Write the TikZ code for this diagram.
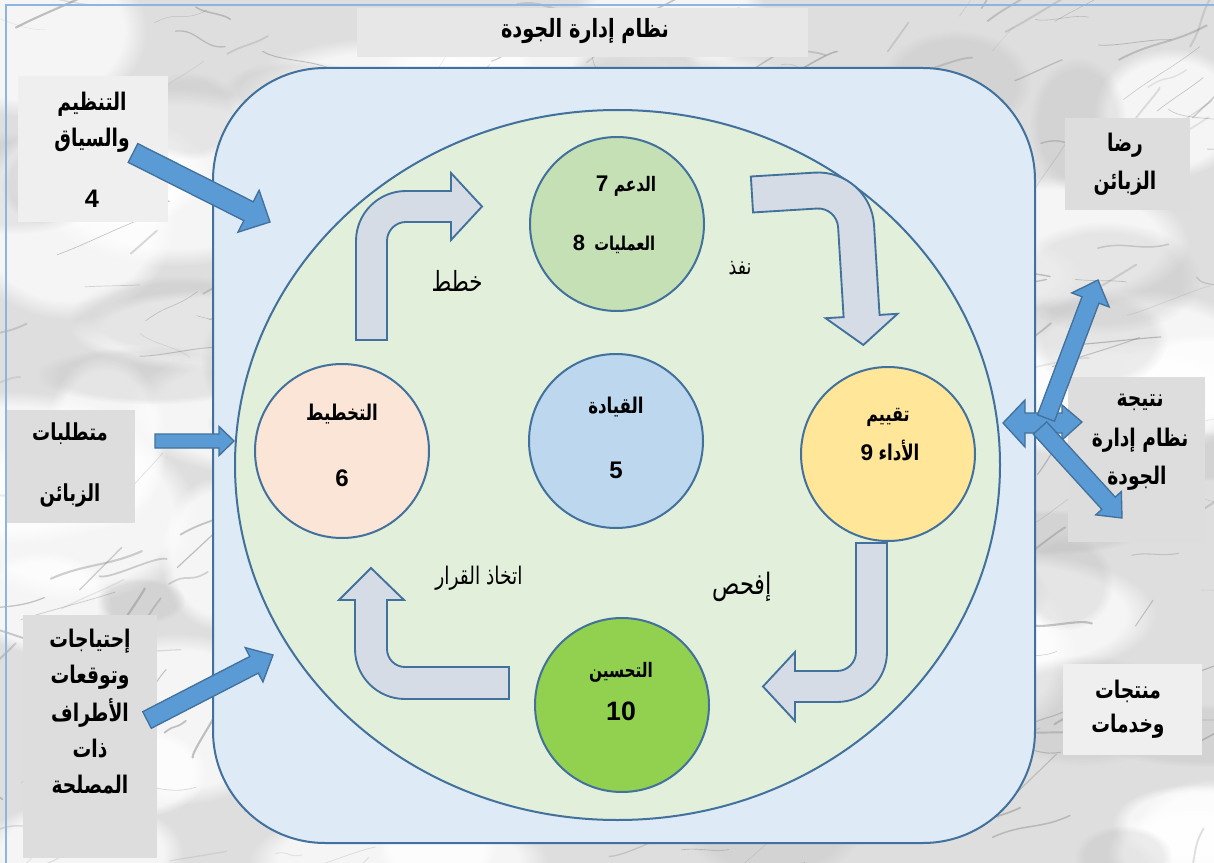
\documentclass[tikz,border=0pt]{standalone}
\usepackage{graphicx}
\usepackage{fontspec}
\setmainfont{Liberation Sans}
\newfontfamily\arabicfont[Script=Arabic]{DejaVu Sans}
\TeXXeTstate=1
\usetikzlibrary{calc,fadings}

\definecolor{marble}{HTML}{DEDEDE}
\definecolor{veingray}{HTML}{6A6A6A}
\definecolor{cloudgray}{HTML}{A8A8A8}
\definecolor{framebl}{HTML}{8EB4E3}
\definecolor{edgeblue}{HTML}{41719C}
\definecolor{panelbl}{HTML}{DEEAF6}
\definecolor{ringgr}{HTML}{E2EFDA}
\definecolor{leadbl}{HTML}{BDD7EE}
\definecolor{planpk}{HTML}{FBE5D6}
\definecolor{suppgr}{HTML}{C5E0B4}
\definecolor{evalye}{HTML}{FFE699}
\definecolor{imprgr}{HTML}{92D050}
\definecolor{cyclegr}{HTML}{D6DCE5}
\definecolor{flowbl}{HTML}{5B9BD5}
\definecolor{boxlight}{HTML}{EFEFEF}
\definecolor{boxmid}{HTML}{DDDDDD}
\definecolor{titlegr}{HTML}{E7E7E7}

% Arabic words, set right to left and drawn a little taller
\newcommand{\arw}[1]{\scalebox{1}[1.3]{\arabicfont\beginR#1\endR}}
\newcommand{\fs}[1]{\fontsize{#1}{#1}\selectfont}

% straight block arrow: tail, tip, half shaft width, half head width, head length
\newcommand{\blockarrow}[5]{%
  \path ($(#2)!#5!(#1)$) coordinate (ba-h);
  \draw[flowarrow]
    ($(#1)!#3!90:(#2)$) -- ($(ba-h)!#3!-90:(#1)$) -- ($(ba-h)!#4!-90:(#1)$)
    -- (#2) -- ($(ba-h)!#4!90:(#1)$) -- ($(ba-h)!#3!90:(#1)$)
    -- ($(#1)!#3!-90:(#2)$) -- cycle;
}

\begin{document}
\begin{tikzpicture}[x=0.75pt,y=-0.75pt,
  edge/.style={draw=edgeblue,line width=1.5pt},
  circ/.style={circle,edge,minimum size=130.5pt,inner sep=0pt},
  greybox/.style={rectangle,inner sep=0pt},
  cyclearrow/.style={fill=cyclegr,draw=edgeblue,line width=1.4pt,line join=miter},
  flowarrow/.style={fill=flowbl,draw=edgeblue,line width=1pt,line join=miter},
  lbl/.style={inner sep=0pt,text=black},
  ]
\useasboundingbox (0,0) rectangle (1214,863);

% marble backdrop: soft clouds and thin veins
\begin{scope}
\clip (0,0) rectangle (1214,863);
\fill[marble] (0,0) rectangle (1214,863);
\pgfmathsetseed{42}
\foreach \k in {1,...,55}{
  \pgfmathsetmacro{\xa}{rnd*1214}
  \pgfmathsetmacro{\ya}{rnd*863}
  \pgfmathsetmacro{\rx}{50+rnd*120}
  \pgfmathsetmacro{\ry}{30+rnd*70}
  \fill[white,opacity=0.7,path fading=circle with fuzzy edge 20 percent] (\xa,\ya) ellipse [x radius=\rx, y radius=\ry];
}
\foreach \k in {1,...,30}{
  \pgfmathsetmacro{\xa}{rnd*1214}
  \pgfmathsetmacro{\ya}{rnd*863}
  \pgfmathsetmacro{\rx}{30+rnd*90}
  \pgfmathsetmacro{\ry}{20+rnd*50}
  \fill[cloudgray,opacity=0.2,path fading=circle with fuzzy edge 20 percent] (\xa,\ya) ellipse [x radius=\rx, y radius=\ry];
}
\foreach \k in {1,...,340}{
  \pgfmathsetmacro{\xa}{-50+rnd*1314}
  \pgfmathsetmacro{\ya}{-50+rnd*963}
  \pgfmathsetmacro{\dx}{15+rnd*80}
  \pgfmathsetmacro{\dy}{25-rnd*80}
  \pgfmathsetmacro{\wig}{rnd*20-10}
  \pgfmathsetmacro{\lw}{0.3+rnd*1.3}
  \pgfmathsetmacro{\op}{0.12+rnd*0.28}
  \draw[veingray,line width=\lw pt,opacity=\op,line cap=round]
    (\xa,\ya) .. controls ({\xa+\dx*0.3+\wig},{\ya+\dy*0.3-\wig}) and ({\xa+\dx*0.7-\wig},{\ya+\dy*0.7+\wig}) .. ({\xa+\dx},{\ya+\dy});
}
\end{scope}
\draw[framebl,line width=1.5pt] (6,5) rectangle (1220,870);

% title
\node[greybox,fill=titlegr,minimum width=338.25pt,minimum height=36.75pt] (title) at (582.5,32.5) {};
\node[lbl] (titlet) at (585,31) {\fs{14.5}\bfseries\arw{نظام إدارة الجودة}};

% input boxes on the left
\node[greybox,fill=boxlight,minimum width=112.5pt,minimum height=109.5pt] (ctx) at (93,149) {};
\node[lbl] (ctx1) at (92,104) {\fs{14}\bfseries\arw{التنظيم}};
\node[lbl] (ctx2) at (92,140) {\fs{14}\bfseries\arw{والسياق}};
\node[lbl] (ctx3) at (92,199) {\fs{19}\bfseries 4};

\node[greybox,fill=boxmid,minimum width=96pt,minimum height=84.75pt] (req) at (71,466.5) {};
\node[lbl] (req1) at (70,434) {\fs{13.5}\bfseries\arw{متطلبات}};
\node[lbl] (req2) at (70,495) {\fs{13.5}\bfseries\arw{الزبائن}};

\node[greybox,fill=boxmid,minimum width=100.5pt,minimum height=182.25pt] (stake) at (90,736.5) {};
\node[lbl] (stake1) at (90,641) {\fs{14}\bfseries\arw{إحتياجات}};
\node[lbl] (stake2) at (90,677) {\fs{14}\bfseries\arw{وتوقعات}};
\node[lbl] (stake3) at (90,713) {\fs{14}\bfseries\arw{الأطراف}};
\node[lbl] (stake4) at (90,749) {\fs{14}\bfseries\arw{ذات}};
\node[lbl] (stake5) at (90,785) {\fs{14}\bfseries\arw{المصلحة}};

% output boxes on the right
\node[greybox,fill=boxmid,minimum width=93.75pt,minimum height=69pt] (sat) at (1127.5,164) {};
\node[lbl] (sat1) at (1125,145) {\fs{14}\bfseries\arw{رضا}};
\node[lbl] (sat2) at (1125,183) {\fs{14}\bfseries\arw{الزبائن}};

\node[greybox,fill=boxmid,minimum width=102.75pt,minimum height=123.75pt] (res) at (1136.5,459.5) {};
\node[lbl] (res1) at (1140,402) {\fs{14}\bfseries\arw{نتيجة}};
\node[lbl] (res2) at (1140,440) {\fs{14}\bfseries\arw{نظام إدارة}};
\node[lbl] (res3) at (1137,478) {\fs{14}\bfseries\arw{الجودة}};

\node[greybox,fill=boxlight,minimum width=104.25pt,minimum height=68.25pt] (prod) at (1132.5,709.5) {};
\node[lbl] (prod1) at (1128,691) {\fs{14}\bfseries\arw{منتجات}};
\node[lbl] (prod2) at (1128,726) {\fs{14}\bfseries\arw{وخدمات}};

% quality management system panel and its ring
\draw[edge,fill=panelbl,rounded corners=84pt] (213,68) rectangle (1035,843);
\draw[edge,fill=ringgr] (617.5,465) ellipse [x radius=382.5, y radius=355];

% clause circles (numbers stand to the left of the Arabic words)
\node[circ,fill=leadbl] (lead) at (616,441) {};
\node[lbl] (leadt) at (616,407) {\fs{12.5}\bfseries\arw{القيادة}};
\node[lbl] (leadn) at (616,470) {\fs{18}\bfseries 5};

\node[circ,fill=planpk] (plan) at (342,451) {};
\node[lbl] (plant) at (342,414) {\fs{12.5}\bfseries\arw{التخطيط}};
\node[lbl] (plann) at (342,478) {\fs{18}\bfseries 6};

\node[circ,fill=suppgr] (supp) at (617,224) {};
\node[lbl] (supp1) at (626,186) {\bfseries{\fs{17}7}\hspace{4pt}\fs{11.5}\arw{الدعم}};
\node[lbl] (supp2) at (614,244) {\bfseries{\fs{16.5}8}\hspace{7pt}\fs{11}\arw{العمليات}};

\node[circ,fill=evalye] (eval) at (888,454) {};
\node[lbl] (eval1) at (888,417) {\fs{12}\bfseries\arw{تقييم}};
\node[lbl] (eval2) at (890,451) {\bfseries{\fs{17}9}\hspace{4pt}\fs{12.5}\arw{الأداء}};

\node[circ,fill=imprgr] (impr) at (622,705) {};
\node[lbl] (impr1) at (621,672) {\fs{11.5}\bfseries\arw{التحسين}};
\node[lbl] (impr2) at (621,711) {\fs{20}\bfseries 10};

% plan - do - check - act cycle arrows
\draw[cyclearrow] (356,340) -- (356,241) arc[start angle=180,end angle=270,radius=50]
  -- (451,191) -- (451,173) -- (482,206.5) -- (451,240) -- (451,222) -- (406,222)
  arc[start angle=270,end angle=180,radius=19] -- (387,340) -- cycle;

\begin{scope}[rotate around={3.5:(858,192)}]
\draw[cyclearrow] (752,170) -- (816,170) arc[start angle=270,end angle=360,radius=56]
  -- (872,316) -- (890,316) -- (854,345) -- (818,316) -- (836,316) -- (836,226)
  arc[start angle=360,end angle=270,radius=20] -- (752,206) -- cycle;
\end{scope}

\draw[cyclearrow] (856,543) -- (887,543) -- (887,652) arc[start angle=0,end angle=90,radius=50]
  -- (795,702) -- (795,721) -- (763,686.5) -- (795,652) -- (795,671) -- (837,671)
  arc[start angle=90,end angle=0,radius=19] -- cycle;

\draw[cyclearrow] (509,699) -- (405,699) arc[start angle=90,end angle=180,radius=50]
  -- (355,600) -- (339,600) -- (371,568) -- (404,600) -- (387,600) -- (387,649)
  arc[start angle=180,end angle=90,radius=18] -- (509,667) -- cycle;

% cycle step labels
\node[lbl] (stepplan) at (457,281) {\fs{16}\arw{خطط}};
\node[lbl] (stepdo) at (740,268) {\fs{13}\arw{نفذ}};
\node[lbl] (stepcheck) at (742,587) {\fs{17}\arw{إفحص}};
\node[lbl] (stepact) at (479,578) {\fs{14}\arw{اتخاذ القرار}};

% inputs flowing into the system
\coordinate (ctxout) at (133,153);
\coordinate (ctxin) at (270,222);
\blockarrow{ctxout}{ctxin}{7.9pt}{17.6pt}{18pt}
\coordinate (reqout) at (155,441);
\coordinate (reqin) at (234,441);
\blockarrow{reqout}{reqin}{5.25pt}{10.9pt}{11.25pt}
\coordinate (stakeout) at (147,720);
\coordinate (stakein) at (273,655);
\blockarrow{stakeout}{stakein}{7pt}{14.5pt}{16pt}

% outputs of the system
\coordinate (hub) at (1045,423);
\draw[flowarrow] (1003,423) -- (1025,400) -- (1025,413) -- (1062,413) -- (1062,405)
  -- (1082,422) -- (1062,440) -- (1062,433) -- (1025,433) -- (1025,447) -- cycle;
\coordinate (satin) at (1098,280);
\coordinate (hubup) at (1046,418);
\blockarrow{hubup}{satin}{6.8pt}{15pt}{16pt}
\coordinate (resin) at (1122,518);
\coordinate (hubdown) at (1040,428);
\blockarrow{hubdown}{resin}{6.8pt}{13pt}{15pt}
\end{tikzpicture}
\end{document}
